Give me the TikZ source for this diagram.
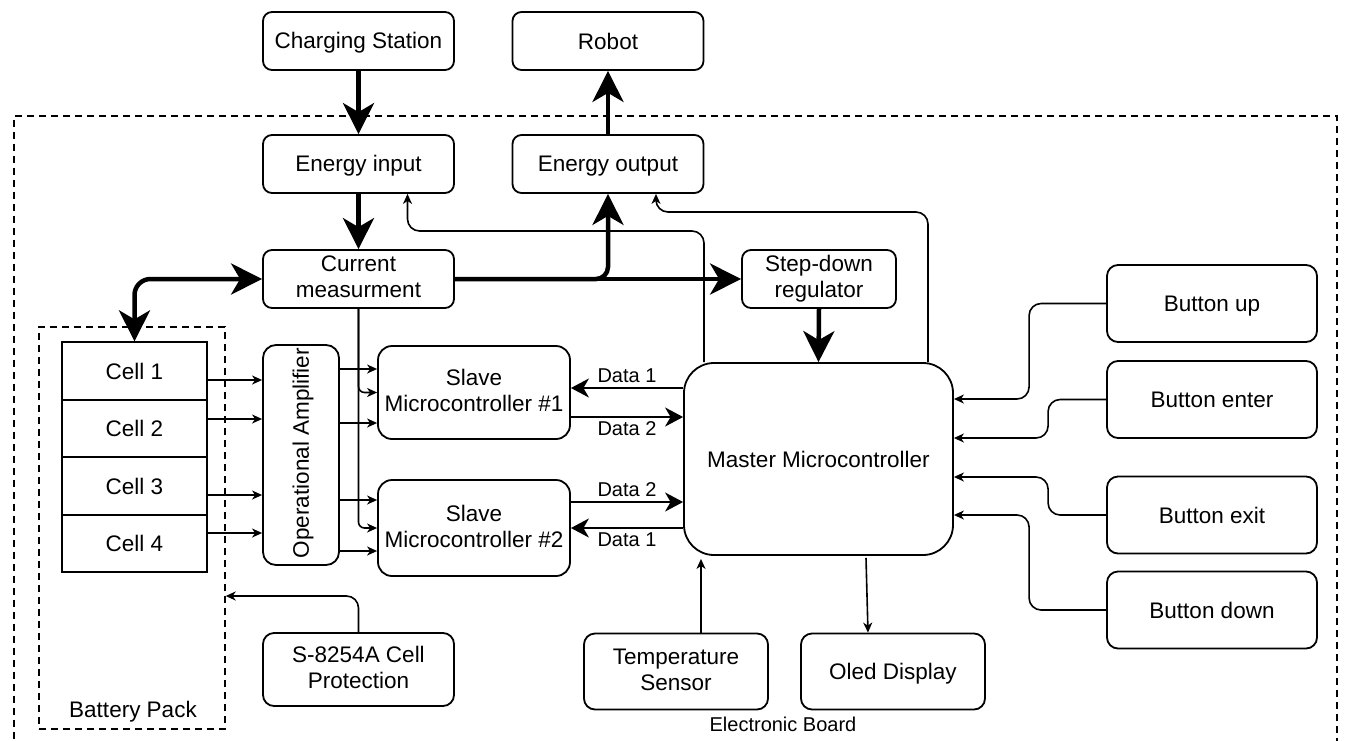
\documentclass[tikz,border=0pt]{standalone}
\usepackage{fontspec}
\setmainfont{Liberation Sans}
\usetikzlibrary{arrows.meta}
\newcommand\fsz{\fontsize{22.5}{26}\selectfont}
\newcommand\fss{\fontsize{20}{24}\selectfont}
\newcommand\mystrut{\rule[-4pt]{0pt}{24pt}}
\begin{document}
\begin{tikzpicture}[x=1pt,y=-1pt,
 box/.style={draw, line width=1.8pt, rounded corners=9pt, align=center, inner sep=0pt, font=\fsz,
   execute at begin node=\mystrut, execute at end node=\mystrut},
 cellbox/.style={draw, line width=1.8pt, inner sep=0pt, font=\fsz, minimum width=145pt, minimum height=57.5pt,
   execute at begin node=\mystrut},
 std/.style={box, minimum width=191pt, minimum height=58pt},
 btn/.style={box, rounded corners=11pt, minimum width=210pt, minimum height=77pt},
 lowbox/.style={box, rounded corners=11pt, minimum width=184pt, minimum height=76pt},
 slave/.style={box, rounded corners=14pt, minimum width=192pt},
 dashbox/.style={draw, line width=1.4pt, dash pattern=on 7pt off 5pt, inner sep=0pt},
 bigtip/.tip={Stealth[length=31pt,width=31pt,inset=9pt]},
 power/.style={line width=4.5pt, -bigtip},
 powerboth/.style={line width=4.5pt, bigtip-bigtip},
 signal/.style={line width=1.6pt, -{Stealth[length=10pt,width=9pt,inset=3pt]}},
 data/.style={line width=2pt, -{Stealth[length=18pt,width=19pt,inset=5.5pt]}},
 lbl/.style={font=\fss, inner sep=1pt}
]
\useasboundingbox (0,0) rectangle (1347,740);

% containers
\node[dashbox, minimum width=1323pt, minimum height=650pt] (board) at (675.5,441) {};
\node[lbl] (boardl) at (783,724) {Electronic Board};
\node[dashbox, minimum width=186pt, minimum height=402pt] (bp) at (132,528) {};
\node[lbl, font=\fsz] (bpl) at (133,712) {Battery Pack};

% nodes
\node[std] (cs) at (358.5,41) {Charging Station};
\node[std] (robot) at (608,41) {Robot};
\node[std] (ei) at (358.5,164) {Energy input};
\node[std] (eo) at (608,164) {Energy output};
\node[std] (cm) at (358.5,279) {Current\\measurment};
\node[box, minimum width=154pt, minimum height=58pt] (sd) at (819,279) {Step-down\\regulator};
\node[box, rounded corners=30pt, minimum width=269pt, minimum height=192pt] (master) at (818.5,459) {Master Microcontroller};
\node[slave, minimum height=93pt] (s1) at (474,392.5) {Slave\\Microcontroller \#1};
\node[slave, minimum height=96pt] (s2) at (474,528) {Slave\\Microcontroller \#2};
\node[box, rounded corners=13pt, minimum width=76pt, minimum height=220pt] (oa) at (301,455) {\rotatebox{90}{Operational Amplifier}\hspace{-4pt}};
\node[cellbox] (c1) at (134.5,371) {Cell 1};
\node[cellbox] (c2) at (134.5,428.5) {Cell 2};
\node[cellbox] (c3) at (134.5,486) {Cell 3};
\node[cellbox] (c4) at (134.5,543.5) {Cell 4};
\node[box, rounded corners=11pt, minimum width=191pt, minimum height=73pt] (sp) at (358.5,669.5) {S-8254A Cell\\Protection};
\node[lowbox] (ts) at (676,671.5) {Temperature\\Sensor};
\node[lowbox] (oled) at (893,671.5) {Oled Display};
\node[btn] (bu) at (1212,303.5) {Button up};
\node[btn] (be) at (1212,399.5) {Button enter};
\node[btn] (bx) at (1212,515) {Button exit};
\node[btn] (bd) at (1212,610) {Button down};

% power connectors
\draw[power] (cs.south) -- (ei.north);
\draw[power] (eo.north) -- (robot.south);
\draw[power] (ei.south) -- (cm.north);
\draw[power] (cm.east) -- (sd.west);
\draw[power, rounded corners=12pt] (cm.east) -| (eo.south);
\draw[powerboth, rounded corners=16pt] (cm.west) -| (c1.north);
\draw[power] (sd.south) -- (master.north);

% feedback to energy input / output
\coordinate (j1) at (704,231);
\coordinate (j2) at (928,212);
\draw[signal, rounded corners=12pt] (master.north -| j1) -- (j1) -| ([xshift=49pt]ei.south);
\draw[signal, rounded corners=12pt] (master.north -| j2) -- (j2) -| ([xshift=48pt]eo.south);

% current measurement to slaves
\draw[signal, rounded corners=6pt] (cm.south) |- (s1.west);
\draw[signal, rounded corners=6pt] (cm.south) |- (s2.west);

% cells to op amp
\draw[signal] ([yshift=-9pt]c1.east) -- ([yshift=75pt]oa.west);
\draw[signal] ([yshift=9.5pt]c2.east) -- ([yshift=36pt]oa.west);
\draw[signal] ([yshift=-9pt]c3.east) -- ([yshift=-40pt]oa.west);
\draw[signal] ([yshift=10.5pt]c4.east) -- ([yshift=-78pt]oa.west);

% op amp to slaves
\draw[signal] ([yshift=86pt]oa.east) -- ([yshift=23.5pt]s1.west);
\draw[signal] ([yshift=32pt]oa.east) -- ([yshift=-30.5pt]s1.west);
\draw[signal] ([yshift=-45pt]oa.east) -- ([yshift=28pt]s2.west);
\draw[signal] ([yshift=-96pt]oa.east) -- ([yshift=-23pt]s2.west);

% data lines
\draw[data] ([yshift=71pt]master.west) -- node[lbl, above=3pt] {Data 1} ([yshift=4.5pt]s1.east);
\draw[data] ([yshift=-24.5pt]s1.east) -- node[lbl, below=3pt] {Data 2} ([yshift=42pt]master.west);
\draw[data] ([yshift=26pt]s2.east) -- node[lbl, above=3pt] {Data 2} ([yshift=-43pt]master.west);
\draw[data] ([yshift=-69pt]master.west) -- node[lbl, below=3pt] {Data 1} (s2.east);

% sensor, display
\draw[signal] ([xshift=25pt]ts.north) -- ([xshift=-117.5pt,yshift=-3pt]master.south);
\draw[signal] ([xshift=47.5pt,yshift=-2pt]master.south) -- ([xshift=-25pt]oled.north);

% buttons
\draw[signal, rounded corners=12pt] (bu.west) -- ++(-77,0) |- ([yshift=60pt]master.east);
\draw[signal, rounded corners=12pt] (be.west) -- ++(-58,0) |- ([yshift=21pt]master.east);
\draw[signal, rounded corners=12pt] (bx.west) -- ++(-58,0) |- ([yshift=-18pt]master.east);
\draw[signal, rounded corners=12pt] (bd.west) -- ++(-77,0) |- ([yshift=-56pt]master.east);

% cell protection
\draw[signal, rounded corners=12pt] (sp.north) |- ([yshift=-68pt]bp.east);
\end{tikzpicture}
\end{document}
